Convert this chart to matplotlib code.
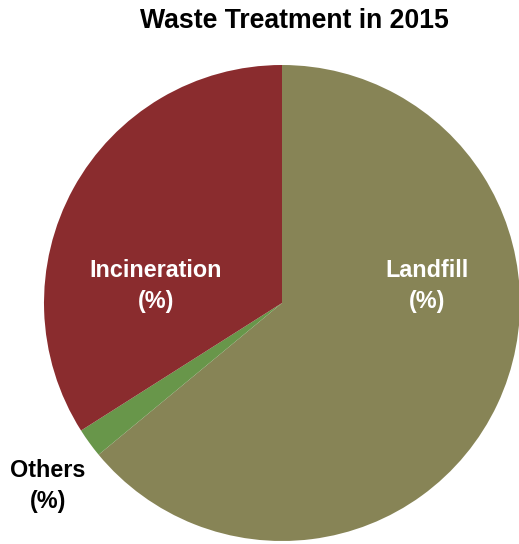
import matplotlib.pyplot as plt

plt.rcParams['font.family'] = ['Liberation Sans', 'DejaVu Sans']

# slices go clockwise from 12 o'clock
categories = ['Landfill', 'Others', 'Incineration']
shares = [64, 2, 34]
colors = ['#878456', '#68964a', '#8a2c2e']
label_pos = [(0.61, 0.07), (-0.985, -0.77), (-0.53, 0.07)]
label_colors = ['white', 'black', 'white']

fig = plt.figure(figsize=(5.19, 5.44), dpi=100)
ax = fig.add_axes([44 / 519, 3 / 544, 476 / 519, 476 / 544])

ax.pie(shares, colors=colors, startangle=90, counterclock=False,
       wedgeprops={'linewidth': 0})
ax.set_xlim(-1, 1)
ax.set_ylim(-1, 1)
ax.set_aspect('equal')
ax.axis('off')

for name, (x, y), c in zip(categories, label_pos, label_colors):
    ax.text(x, y, f'{name}\n(%)', ha='center', va='center', color=c,
            fontsize=16.8, fontweight='bold', linespacing=1.45, clip_on=False)

fig.text(0.568, 0.962, 'Waste Treatment in 2015', ha='center', va='center',
         fontsize=19.2, fontweight='bold')

fig.savefig('out.png', dpi=100)
